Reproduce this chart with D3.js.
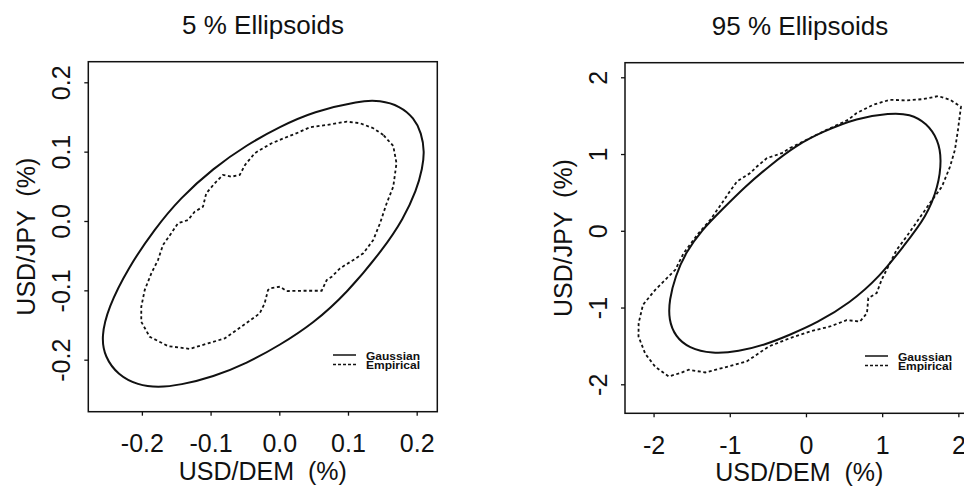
<!DOCTYPE html>
<html>
<head>
<meta charset="utf-8">
<script src="https://cdn.jsdelivr.net/npm/d3@7"></script>
<style>
  html, body { margin: 0; padding: 0; background: #fff; }
  svg { display: block; font-family: "Liberation Sans", Arial, Helvetica, sans-serif; }
  text { white-space: pre; }
</style>
</head>
<body>
<svg id="chart" width="964" height="494"></svg>
<script>
// ---------------- DATA ----------------
const titles = ["5 % Ellipsoids", "95 % Ellipsoids"];
const xLabel = "USD/DEM  (%)";
const yLabel = "USD/JPY  (%)";
const legendLabels = ["Gaussian", "Empirical"];

const ticks5 = [-0.2, -0.1, 0.0, 0.1, 0.2];
const ticks95 = [-2, -1, 0, 1, 2];

// 5 % panel: Gaussian contour (solid)
const gauss5 = [
  [0.1466, 0.1739], [0.1175, 0.1736], [0.0495, 0.1577], [0.0010, 0.1361], [-0.0475, 0.1097],
  [-0.0961, 0.0760], [-0.1445, 0.0328], [-0.1814, -0.0115], [-0.2202, -0.0678], [-0.2493, -0.1255],
  [-0.2591, -0.1669], [-0.2541, -0.1958], [-0.2348, -0.2222], [-0.2057, -0.2367], [-0.1766, -0.2400],
  [-0.1445, -0.2367], [-0.0961, -0.2247], [-0.0475, -0.2053], [0.0010, -0.1789], [0.0495, -0.1476],
  [0.0981, -0.1043], [0.1514, -0.0404], [0.1805, 0.0029], [0.2000, 0.0447], [0.2084, 0.0765],
  [0.2114, 0.0996], [0.2070, 0.1270], [0.1961, 0.1486], [0.1757, 0.1659]
];
// 5 % panel: Empirical contour (dotted)
const emp5 = [
  [0.1514, 0.1241], [0.1368, 0.1338], [0.1175, 0.141], [0.0981, 0.1433], [0.069, 0.1385],
  [0.0447, 0.1352], [0.0253, 0.1266], [0.0058, 0.119], [-0.0111, 0.1121], [-0.0281, 0.1025],
  [-0.0358, 0.0977], [-0.0499, 0.0808], [-0.0576, 0.0664], [-0.0699, 0.0639], [-0.082, 0.0664],
  [-0.094, 0.0544], [-0.1063, 0.04], [-0.1111, 0.0206], [-0.1231, 0.0134], [-0.1329, 0.0014],
  [-0.1475, -0.0033], [-0.1572, -0.0177], [-0.1693, -0.0346], [-0.1766, -0.0563], [-0.1863, -0.0755],
  [-0.1959, -0.0996], [-0.2009, -0.1237], [-0.2009, -0.1453], [-0.1886, -0.167], [-0.162, -0.1804],
  [-0.1304, -0.1844], [-0.1038, -0.1765], [-0.0795, -0.1693], [-0.0553, -0.1525], [-0.0285, -0.1332],
  [-0.0213, -0.1188], [-0.0164, -0.0996], [-0.0135, -0.0971], [0.001, -0.0948], [0.0108, -0.101],
  [0.0349, -0.1006], [0.0617, -0.1006], [0.069, -0.0851], [0.0763, -0.0804], [0.0884, -0.0683],
  [0.1077, -0.0563], [0.1223, -0.0466], [0.1368, -0.0274], [0.1466, -0.0033], [0.1563, 0.0255],
  [0.1659, 0.0495], [0.1706, 0.0833], [0.1659, 0.1082]
];
// 95 % panel: Gaussian contour (solid)
const gauss95 = [
  [1.102, 1.534], [0.665, 1.468], [0.227, 1.294], [-0.118, 1.121], [-0.4895, 0.838],
  [-0.797, 0.577], [-1.102, 0.274], [-1.365, 0.013], [-1.584, -0.291], [-1.715, -0.595],
  [-1.794, -0.899], [-1.802, -1.160], [-1.715, -1.377], [-1.539, -1.528], [-1.234, -1.603],
  [-0.883, -1.573], [-0.534, -1.485], [-0.21, -1.355], [0.140, -1.203], [0.577, -0.942],
  [0.971, -0.595], [1.277, -0.205], [1.584, 0.186], [1.736, 0.577], [1.781, 0.925],
  [1.736, 1.186], [1.584, 1.403], [1.365, 1.524]
];
// 95 % panel: Empirical contour (dotted)
const emp95 = [
  [-0.21, 1.078], [0.227, 1.294], [0.555, 1.446], [0.665, 1.534], [0.883, 1.642],
  [1.102, 1.707], [1.321, 1.698], [1.539, 1.716], [1.736, 1.755], [1.890, 1.707],
  [2.034, 1.616], [1.995, 1.316], [1.955, 1.055], [1.890, 0.834], [1.785, 0.577],
  [1.627, 0.361], [1.474, 0.143], [1.321, -0.074], [1.190, -0.248], [1.102, -0.421],
  [0.993, -0.638], [0.928, -0.812], [0.818, -0.877], [0.801, -1.072], [0.709, -1.182],
  [0.534, -1.164], [0.315, -1.247], [0.052, -1.312], [-0.21, -1.398], [-0.4895, -1.508],
  [-0.778, -1.703], [-1.102, -1.789], [-1.322, -1.846], [-1.539, -1.811], [-1.650, -1.854],
  [-1.802, -1.898], [-1.978, -1.772], [-2.109, -1.603], [-2.198, -1.377], [-2.196, -1.203],
  [-2.139, -0.964], [-1.978, -0.769], [-1.846, -0.638], [-1.715, -0.508], [-1.605, -0.291],
  [-1.408, -0.030], [-1.256, 0.143], [-1.102, 0.361], [-1.014, 0.491], [-0.906, 0.642],
  [-0.731, 0.752], [-0.643, 0.838], [-0.512, 0.947], [-0.315, 1.012]
];

// ---------------- LAYOUT ----------------
const panels = [
  { title: titles[0], ticks: ticks5, fmt: d3.format(".1f"), gauss: gauss5, emp: emp5,
    xDom: [-0.278, 0.230], yDom: [-0.275, 0.2297],
    left: 88.3, right: 437.3, top: 61.7, bottom: 411.7,
    titleX: 263, legendX: 333, legendY: 355 },
  { title: titles[1], ticks: ticks95, fmt: d3.format("d"), gauss: gauss95, emp: emp95,
    xDom: [-2.375, 2.2], yDom: [-2.378, 2.19],
    left: 625, right: 973.6, top: 62.7, bottom: 413.3,
    titleX: 800, legendX: 865, legendY: 356 }
];

const svg = d3.select("#chart");
const FS_TICK = 25, FS_LAB = 25, FS_TITLE = 26;

panels.forEach(p => {
  const x = d3.scaleLinear().domain(p.xDom).range([p.left, p.right]);
  const y = d3.scaleLinear().domain(p.yDom).range([p.bottom, p.top]);
  const fmt = d => p.fmt(d).replace("\u2212", "-");
  const g = svg.append("g");
  const cx = (p.left + p.right) / 2, cy = (p.top + p.bottom) / 2;

  // title
  g.append("text").attr("x", p.titleX).attr("y", p.top - 28)
    .attr("text-anchor", "middle").attr("font-size", FS_TITLE).attr("fill", "#111")
    .text(p.title);

  // x axis
  const xa = g.append("g").attr("transform", `translate(0,${p.bottom})`)
    .call(d3.axisBottom(x).tickValues(p.ticks).tickFormat(fmt).tickSize(4).tickPadding(18.5));
  xa.select(".domain").remove();
  xa.selectAll(".tick line").attr("stroke", "#111").attr("stroke-width", 1.3);
  xa.selectAll(".tick text").attr("font-size", FS_TICK).attr("fill", "#111")
    .attr("font-family", null);

  // y axis (rotated labels, R style)
  const ya = g.append("g").attr("transform", `translate(${p.left},0)`)
    .call(d3.axisLeft(y).tickValues(p.ticks).tickFormat(fmt).tickSize(4));
  ya.select(".domain").remove();
  ya.selectAll(".tick line").attr("stroke", "#111").attr("stroke-width", 1.3);
  ya.selectAll(".tick text").attr("font-size", FS_TICK).attr("fill", "#111")
    .attr("font-family", null)
    .attr("x", 0).attr("y", 0).attr("dy", null)
    .attr("text-anchor", "middle")
    .attr("transform", "translate(-18.5,0) rotate(-90)");

  // axis titles
  g.append("text").attr("x", cx).attr("y", p.bottom + 68)
    .attr("text-anchor", "middle").attr("font-size", FS_LAB).attr("fill", "#111")
    .text(xLabel);
  g.append("text").attr("transform", `translate(${p.left - 53},${cy}) rotate(-90)`)
    .attr("text-anchor", "middle").attr("font-size", FS_LAB).attr("fill", "#111")
    .text(yLabel);

  // curves
  g.append("path").datum(p.gauss)
    .attr("d", d3.line().x(d => x(d[0])).y(d => y(d[1])).curve(d3.curveBasisClosed))
    .attr("fill", "none").attr("stroke", "#111").attr("stroke-width", 2);
  g.append("path").datum(p.emp)
    .attr("d", d3.line().x(d => x(d[0])).y(d => y(d[1])).curve(d3.curveLinearClosed))
    .attr("fill", "none").attr("stroke", "#111").attr("stroke-width", 1.8)
    .attr("stroke-dasharray", "3 2.6");

  // box
  g.append("rect").attr("x", p.left).attr("y", p.top)
    .attr("width", p.right - p.left).attr("height", p.bottom - p.top)
    .attr("fill", "none").attr("stroke", "#111").attr("stroke-width", 1.5);

  // legend
  const lg = g.append("g");
  legendLabels.forEach((lab, i) => {
    const ly = p.legendY + i * 9.5;
    lg.append("line").attr("x1", p.legendX).attr("x2", p.legendX + 23)
      .attr("y1", ly).attr("y2", ly)
      .attr("stroke", "#111").attr("stroke-width", 1.5)
      .attr("stroke-dasharray", i === 0 ? null : "3 2");
    lg.append("text").attr("x", p.legendX + 33).attr("y", ly + 4.5)
      .attr("font-size", 11.5).attr("font-weight", "bold").attr("fill", "#111")
      .attr("textLength", 54).attr("lengthAdjust", "spacingAndGlyphs")
      .text(lab);
  });
});
</script>
</body>
</html>
